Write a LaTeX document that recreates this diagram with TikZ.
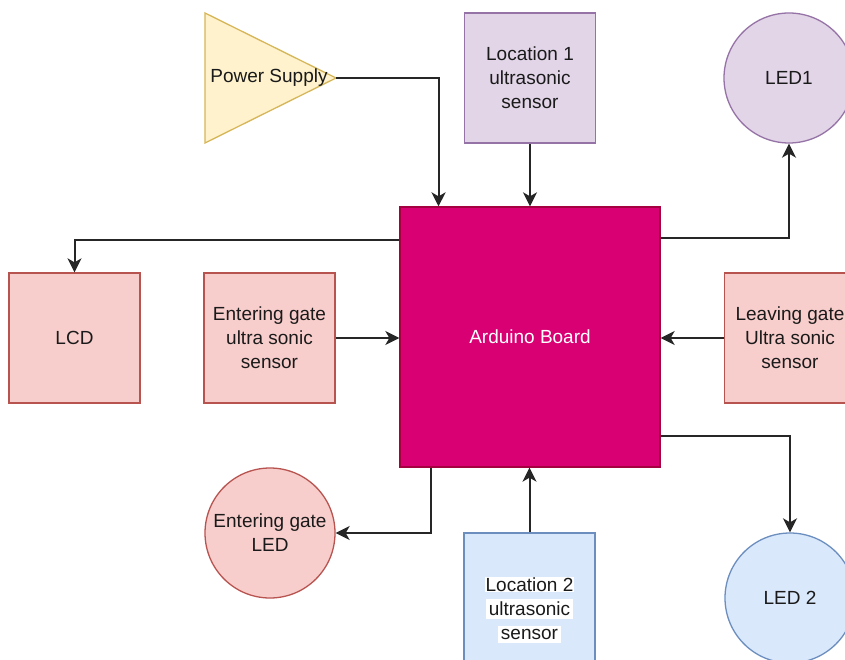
\documentclass[tikz,border=0pt]{standalone}
\usepackage{fontspec}
\setmainfont{Liberation Sans}
\usetikzlibrary{arrows.meta,calc}
\definecolor{ardfill}{HTML}{D80073}
\definecolor{ardline}{HTML}{A50040}
\definecolor{redfill}{HTML}{F8CECC}
\definecolor{redline}{HTML}{B85450}
\definecolor{purfill}{HTML}{E1D5E7}
\definecolor{purline}{HTML}{9673A6}
\definecolor{blufill}{HTML}{DAE8FC}
\definecolor{bluline}{HTML}{6C8EBF}
\definecolor{yelfill}{HTML}{FFF2CC}
\definecolor{yelline}{HTML}{D6B656}
\definecolor{txt}{HTML}{1A1A1A}
\begin{document}
\begin{tikzpicture}[x=1pt,y=-1pt,
  lbl/.style={font=\fontsize{19}{24}\selectfont, text=txt, align=center},
  box/.style={lbl, draw, line width=1.3pt, rectangle, minimum width=131pt, minimum height=130pt, inner sep=0pt},
  circ/.style={lbl, draw, line width=1.3pt, circle, minimum size=130pt, inner sep=0pt},
  conn/.style={draw=black!85, line width=2pt, -{Stealth[length=14pt,width=14pt,inset=4pt]}}]
\fill[white] (0,0) rectangle (845,660);
\useasboundingbox (0,0) rectangle (845,660);

% Power supply triangle
\draw[fill=yelfill, draw=yelline, line width=1.3pt] (205,13) -- (336,78) -- (205,143) -- cycle;
\node[lbl] (ps) at (269,78) {Power Supply};
\coordinate (psapex) at (336,78);

% Arduino
\node[box, fill=ardfill, draw=ardline, minimum width=260pt, minimum height=260pt, text=white] (ard) at (530,337) {Arduino Board};

% Boxes
\node[box, fill=purfill, draw=purline] (loc1) at (530,78) {Location 1\\ultrasonic\\sensor};
\node[box, fill=redfill, draw=redline] (lcd) at (74.5,338) {LCD};
\node[box, fill=redfill, draw=redline] (ent) at (269.5,338) {Entering gate\\ultra sonic\\sensor};
\node[box, fill=redfill, draw=redline] (leave) at (790,338) {Leaving gate\\Ultra sonic\\sensor};
\node[box, fill=blufill, draw=bluline, minimum height=154pt] (loc2) at (529.5,610) {\setlength{\fboxsep}{0.6pt}\colorbox{white}{Location 2}\\\colorbox{white}{ultrasonic}\\\colorbox{white}{sensor}};

% Circles
\node[circ, fill=purfill, draw=purline] (led1) at (789,78) {LED1};
\node[circ, fill=redfill, draw=redline] (entled) at (270,533) {Entering gate\\LED};
\node[circ, fill=blufill, draw=bluline] (led2) at (790,598) {LED 2};

% Connectors
\draw[conn] (psapex) -| ($(ard.north west)!0.15!(ard.north east)$);
\draw[conn] (loc1.south) -- (loc1.south |- ard.north);
\draw[conn] ([yshift=-32pt]ard.north east) -| (led1.south);
\draw[conn] ([yshift=-34pt]ard.north west) -| (lcd.north);
\draw[conn] (ent.east) -- (ent.east -| ard.west);
\draw[conn] (leave.west) -- (leave.west -| ard.east);
\draw[conn] ([xshift=32pt]ard.south west) |- (entled.east);
\draw[conn] (loc2.north) -- (loc2.north |- ard.south);
\draw[conn] ([yshift=32pt]ard.south east) -| (led2.north);
\end{tikzpicture}
\end{document}
